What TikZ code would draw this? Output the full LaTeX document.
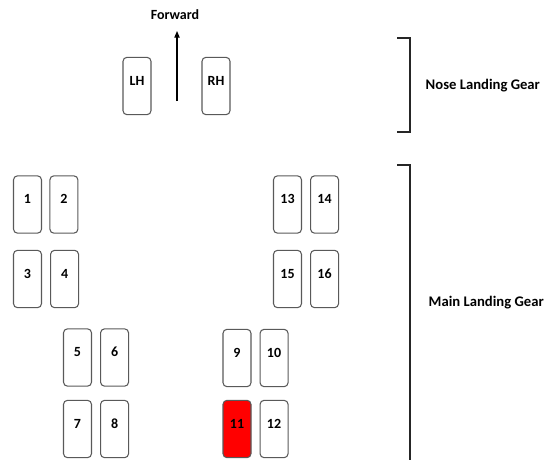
\documentclass[tikz,border=0pt]{standalone}
\usepackage{fontspec}
\setmainfont{Carlito}
\usetikzlibrary{arrows.meta, positioning}
\definecolor{tireline}{HTML}{595959}
\definecolor{failcol}{HTML}{FF0000}

\begin{document}
\begin{tikzpicture}[
    x=0.75pt, y=-0.75pt,
    >={Triangle[length=5pt, width=4pt]},
    every node/.style={font=\fontsize{10.5}{12}\selectfont\bfseries},
    tire/.style={
        draw=tireline, rounded corners=3pt, line width=0.8pt,
        minimum width=21pt, minimum height=43pt, inner sep=0pt,
        text height=7pt, text depth=8pt
    },
    failed/.style={fill=failcol},
    bracket/.style={line width=0.9pt, color=black!85},
    arrow/.style={->, line width=0.8pt, color=black},
    gearlabel/.style={anchor=west, font=\fontsize{11}{13}\selectfont\bfseries},
]
\useasboundingbox (0,0) rectangle (545,460);

% ===== Nose landing gear =====
\node[tire] (lh) at (137,86) {LH};
\node[tire] (rh) at (216,86) {RH};

\node (fwd) at (175,15) {Forward};
\coordinate (fwdtail) at (177,101);
\coordinate (fwdhead) at (177,31);
\draw[arrow] (fwdtail) -- (fwdhead);

% ===== Main landing gear, left side =====
\node[tire] (t1) at (27.5,204.5) {1};
\node[tire, right=5.5pt of t1] (t2) {2};
\node[tire] (t3) at (27.5,279) {3};
\node[tire, right=6pt of t3] (t4) {4};

\node[tire] (t5) at (77.5,357.5) {5};
\node[tire, right=6pt of t5] (t6) {6};
\node[tire] (t7) at (77.5,429) {7};
\node[tire, right=6pt of t7] (t8) {8};

% ===== Main landing gear, right side =====
\node[tire] (t9) at (237,358) {9};
\node[tire, right=6pt of t9] (t10) {10};
\node[tire, failed] (t11) at (237,429) {11};
\node[tire, right=6pt of t11] (t12) {12};

\node[tire] (t13) at (287.5,204.5) {13};
\node[tire, right=6pt of t13] (t14) {14};
\node[tire] (t15) at (287.5,279) {15};
\node[tire, right=6pt of t15] (t16) {16};

% ===== Brackets =====
\coordinate (nosetop) at (397,38);
\coordinate (nosebot) at (397,132);
\draw[bracket] (nosetop) -- (410,38) -- (410,132) -- (nosebot);
\node[gearlabel] (noselabel) at (421,86) {Nose Landing Gear};

\coordinate (maintop) at (397,165);
\coordinate (mainbot) at (410,460);
\draw[bracket] (maintop) -| (mainbot);
\node[gearlabel] (mainlabel) at (424,303) {Main Landing Gear};

\end{tikzpicture}
\end{document}
